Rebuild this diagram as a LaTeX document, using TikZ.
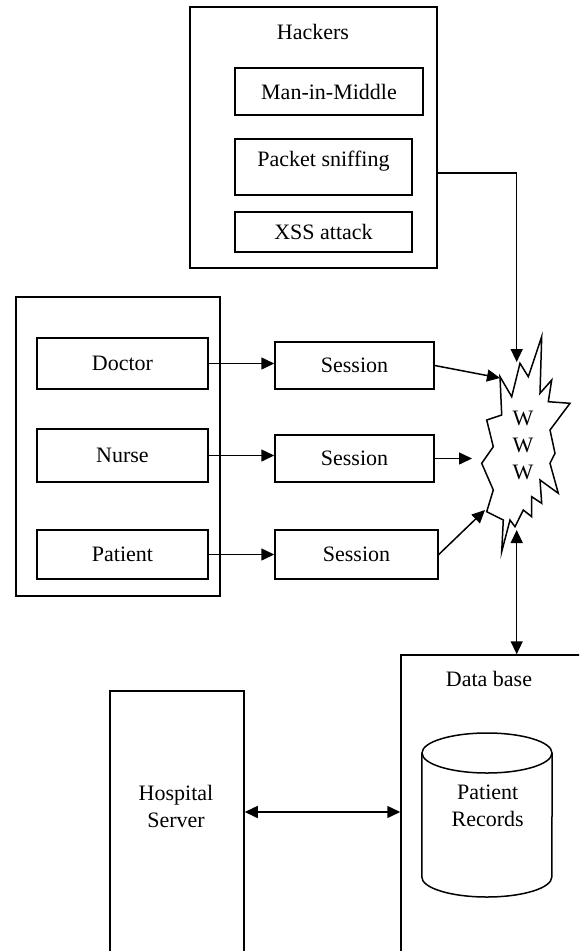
\documentclass[tikz,border=0pt]{standalone}
\usepackage{fontspec}
\setmainfont{Liberation Serif}
\usetikzlibrary{arrows.meta}
\begin{document}
\begin{tikzpicture}[x=1pt,y=-1pt,
  box/.style={draw,line width=1.5pt,rectangle,inner sep=0pt,font=\fontsize{22}{27}\selectfont,align=center},
  lbl/.style={inner sep=0pt,font=\fontsize{22}{27}\selectfont,align=center},
  arr/.style={line width=1.5pt,-{Triangle[length=13pt,width=12pt]}},
  arrb/.style={line width=1.5pt,{Triangle[length=13pt,width=12pt]}-{Triangle[length=13pt,width=12pt]}},
  edge/.style={line width=1.5pt}]
\useasboundingbox (0,0) rectangle (579,951);
\clip (0,0) rectangle (579,951);

% Hackers group
\node[box,minimum width=247pt,minimum height=261pt] (hackers) at (313.5,137.5) {};
\node[lbl] (hackT) at (313,32) {Hackers};
\node[box,minimum width=188pt,minimum height=47pt] (mim) at (329,91.5) {Man-in-Middle};
\node[box,minimum width=177pt,minimum height=56pt] (ps) at (323.5,167) {};
\node[lbl] (psT) at (323.5,161) {Packet sniffing};
\node[box,minimum width=177pt,minimum height=40pt] (xss) at (323.5,232) {XSS attack};

% Users group
\node[box,minimum width=204pt,minimum height=299pt] (users) at (118,446.5) {};
\node[box,minimum width=171pt,minimum height=51pt] (doc) at (122.5,363.5) {Doctor};
\node[box,minimum width=171pt,minimum height=53pt] (nur) at (122.5,455.5) {Nurse};
\node[box,minimum width=171pt,minimum height=49pt] (pat) at (122.5,554.5) {Patient};

% Sessions
\node[box,minimum width=159pt,minimum height=47pt] (s1) at (354.5,365.5) {Session};
\node[box,minimum width=159pt,minimum height=47pt] (s2) at (354.5,458.5) {Session};
\node[box,minimum width=163pt,minimum height=49pt] (s3) at (356.5,554.5) {Session};

% WWW starburst
\draw[edge,line join=miter] (500,376.7) -- (511.7,396.7) -- (520,363.3) -- (528.3,376.7)
  -- (541.7,336.7) -- (540,393.3) -- (551.7,380) -- (548.3,401.7) -- (570,403.3)
  -- (550,430) -- (555,453.3) -- (550,463.3) -- (558.3,493.3) -- (540,480)
  -- (541.7,503.3) -- (531.7,496.7) -- (531.7,516.7) -- (523.3,510) -- (515,526.7)
  -- (510,520) -- (501.7,551.7) -- (503.3,520) -- (486.7,511.7) -- (493.3,490)
  -- (481.7,463.3) -- (493.3,446.7) -- (486.7,420) -- (501.7,415) -- cycle;
\node[lbl] (www) at (523,445) {W\\W\\W};
\coordinate (hin) at (516.7,362);
\coordinate (din) at (500,378);
\coordinate (nin) at (472,458.5);
\coordinate (pin) at (485,510);
\coordinate (wbot) at (516.7,530);

% Bottom
\node[box,minimum width=134pt,minimum height=309pt] (hs) at (177,845.5) {};
\node[lbl] (hsT) at (176,806.5) {Hospital\\Server};
\node[box,minimum width=199pt,minimum height=345pt] (db) at (500.5,827.5) {};
\node[lbl] (dbT) at (489,679) {Data base};
\node[minimum width=130pt,minimum height=164pt,inner sep=0pt] (cyl) at (487,815) {};
\draw[edge] (cyl.west |- 0,753) -- (cyl.west |- 0,877)
  arc[start angle=180,end angle=360,x radius=65pt,y radius=20pt]
  -- (cyl.east |- 0,753);
\draw[edge] (487,753) ellipse[x radius=65pt,y radius=20pt];
\node[lbl] (cylT) at (487.7,805.5) {Patient\\Records};

% Connectors
\draw[arr] (doc.east) -- (s1.west |- doc.east);
\draw[arr] (nur.east) -- (s2.west |- nur.east);
\draw[arr] (pat.east) -- (s3.west |- pat.east);
\draw[arr] (s1.east) -- (din);
\draw[arr] (s2.east) -- (nin);
\draw[arr] (s3.east) -- (pin);
\draw[arr] (hackers.east |- 0,173) -| (hin);
\draw[arrb] (wbot) -- (wbot |- db.north);
\draw[arrb] (hs.east |- 0,812) -- (db.west |- 0,812);
\end{tikzpicture}
\end{document}
